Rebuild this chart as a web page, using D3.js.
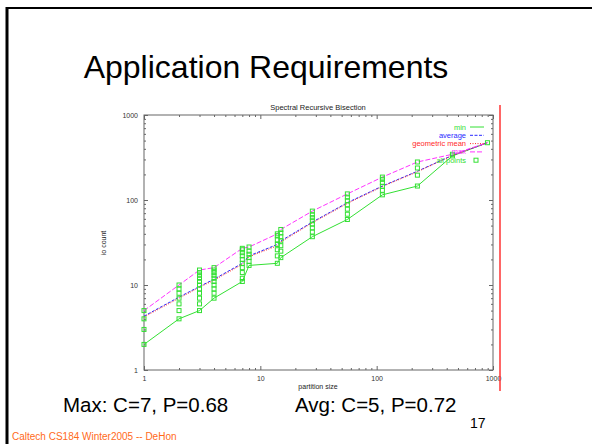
<!DOCTYPE html>
<html><head><meta charset="utf-8">
<script src="https://cdn.jsdelivr.net/npm/d3@7"></script>
<style>
html,body{margin:0;padding:0;background:#fff;}
svg{display:block;font-family:"Liberation Sans",Arial,sans-serif;}
</style></head>
<body>
<svg id="c" width="592" height="444"></svg>
<script>
// ---- data ----
const sizes   = [1, 2, 3, 4, 7, 8, 14, 15, 28, 56, 112, 224, 448, 896];
const minVals = [2, 4, 5, 7, 11, 17, 18, 21, 37, 59, 115, 146, 330, 472];
const maxVals = [5, 10, 15, 16, 27, 28, 40, 45, 74, 118, 186, 280, 345, 472];
const avgVals = [4.3, 7.2, 9.6, 11.7, 18, 22, 30, 33, 55, 93, 146, 218, 335, 472];
const geoVals = [4.2, 7.0, 9.4, 11.4, 17.5, 21.5, 29, 32, 54, 91, 144, 215, 334, 472];
const allPoints = [
  [1, [2, 3, 4, 5]],
  [2, [4, 5, 6, 7, 8, 9, 10]],
  [3, [5, 6, 7, 8, 9, 10, 11, 12, 13, 14, 15]],
  [4, [7, 8, 9, 10, 11, 12, 13, 14, 15, 16]],
  [7, [11, 12, 14, 16, 18, 20, 22, 24, 26, 27]],
  [8, [17, 19, 21, 23, 25, 28]],
  [14, [18, 22, 26, 30, 34, 38, 40]],
  [15, [21, 25, 29, 33, 37, 41, 45]],
  [28, [37, 42, 47, 52, 57, 62, 67, 74]],
  [56, [59, 68, 78, 88, 98, 108, 118]],
  [112, [115, 130, 145, 160, 175, 186]],
  [224, [146, 196, 238, 280]],
  [448, [330, 345]],
  [896, [472]]
];
const decadeLabels = ["1", "10", "100", "1000"];
const legendLabels = ["min", "average", "geometric mean", "max", "all points"];

// ---- drawing ----
const svg = d3.select("#c");
const W = 592, H = 444;

// slide frame
svg.append("line").attr("x1", 7).attr("x2", 7).attr("y1", 7).attr("y2", H).attr("stroke", "#000").attr("stroke-width", 3);
svg.append("line").attr("x1", 6).attr("x2", W).attr("y1", 8).attr("y2", 8).attr("stroke", "#000").attr("stroke-width", 2);

svg.append("text").attr("x", 266).attr("y", 78).attr("text-anchor", "middle")
  .attr("font-size", 32).attr("fill", "#000").text("Application Requirements");

const x = d3.scaleLog().domain([1, 1000]).range([144, 493]);
const y = d3.scaleLog().domain([1, 1000]).range([370, 115]);
const axisCol = "#666";
const isMajor = v => Math.abs(Math.log10(v) - Math.round(Math.log10(v))) < 1e-6;
const fmt = v => isMajor(v) ? decadeLabels[Math.round(Math.log10(v))] : "";
const tickVals = x.ticks();

function styleAxis(g, inward) {
  g.select(".domain").remove();
  g.selectAll(".tick line").attr("stroke", axisCol).attr("stroke-width", 1)
    .each(function(d) {
      const len = isMajor(d) ? 4 : 2;
      const el = d3.select(this);
      if (el.attr("x2") !== null && +el.attr("x2") !== 0) el.attr("x2", inward * len);
      else el.attr("y2", inward * len);
    });
  g.selectAll(".tick text").attr("font-size", 7).attr("fill", "#333")
    .attr("font-family", "Liberation Sans, Arial, sans-serif");
}
// bottom
svg.append("g").attr("transform", "translate(0,370)")
  .call(d3.axisBottom(x).tickValues(tickVals).tickFormat(fmt).tickSizeInner(-4).tickPadding(6))
  .call(g => styleAxis(g, -1));
// top
svg.append("g").attr("transform", "translate(0,115)")
  .call(d3.axisTop(x).tickValues(tickVals).tickFormat("").tickSizeInner(-4))
  .call(g => styleAxis(g, 1));
// left
svg.append("g").attr("transform", "translate(144,0)")
  .call(d3.axisLeft(y).tickValues(y.ticks()).tickFormat(fmt).tickSizeInner(-4).tickPadding(6))
  .call(g => styleAxis(g, 1));
// right
svg.append("g").attr("transform", "translate(493,0)")
  .call(d3.axisRight(y).tickValues(y.ticks()).tickFormat("").tickSizeInner(-4))
  .call(g => styleAxis(g, -1));
// frame
svg.append("rect").attr("x", 144).attr("y", 115).attr("width", 349).attr("height", 255)
  .attr("fill", "none").attr("stroke", axisCol).attr("stroke-width", 1);

// titles
svg.append("text").attr("x", 318).attr("y", 110).attr("text-anchor", "middle")
  .attr("font-size", 7.5).attr("fill", "#222").text("Spectral Recursive Bisection");
svg.append("text").attr("x", 318).attr("y", 389).attr("text-anchor", "middle")
  .attr("font-size", 7).attr("fill", "#222").text("partition size");
svg.append("text").attr("transform", "translate(106,243) rotate(-90)").attr("text-anchor", "middle")
  .attr("font-size", 7).attr("fill", "#222").text("io count");

// series
const green = "#33e033", blue = "#2a2aff", red = "#ff2a2a", mag = "#ff33ff";
const line = d3.line().x(d => x(d[0])).y(d => y(d[1]));
const series = [
  {vals: minVals, col: green, dash: null},
  {vals: avgVals, col: blue, dash: "3,1.5"},
  {vals: geoVals, col: red, dash: "1,1.5"},
  {vals: maxVals, col: mag, dash: "5,2"}
];
series.forEach(s => {
  svg.append("path").datum(sizes.map((v, i) => [v, s.vals[i]]))
    .attr("d", line).attr("fill", "none").attr("stroke", s.col).attr("stroke-width", 1)
    .attr("stroke-dasharray", s.dash);
});
// all points
const pts = allPoints.flatMap(([s, vs]) => vs.map(v => [s, v]));
svg.append("g").selectAll("rect").data(pts).join("rect")
  .attr("x", d => x(d[0]) - 2).attr("y", d => y(d[1]) - 2)
  .attr("width", 4).attr("height", 4).attr("fill", "none").attr("stroke", green).attr("stroke-width", 1);

// legend
const legCols = [green, blue, red, mag, green];
const legDash = [null, "3,1.5", "1,1.5", "5,2", null];
legendLabels.forEach((lab, i) => {
  const ly = 127 + i * 8.3;
  svg.append("text").attr("x", 466).attr("y", ly + 2.5).attr("text-anchor", "end")
    .attr("font-size", 7.5).attr("fill", legCols[i]).text(lab);
  if (i < 4) {
    svg.append("line").attr("x1", 470).attr("x2", 484).attr("y1", ly).attr("y2", ly)
      .attr("stroke", legCols[i]).attr("stroke-width", 1).attr("stroke-dasharray", legDash[i]);
  } else {
    svg.append("rect").attr("x", 474).attr("y", ly - 2).attr("width", 4).attr("height", 4)
      .attr("fill", "none").attr("stroke", green);
  }
});

// red vertical line
svg.append("line").attr("x1", 500).attr("x2", 500).attr("y1", 105).attr("y2", 391)
  .attr("stroke", "#ff3333").attr("stroke-width", 1.5);

// bottom texts
svg.append("text").attr("x", 63).attr("y", 412).attr("font-size", 20.5).attr("fill", "#000").text("Max: C=7, P=0.68");
svg.append("text").attr("x", 295).attr("y", 412).attr("font-size", 20.5).attr("fill", "#000").text("Avg: C=5, P=0.72");
svg.append("text").attr("x", 470).attr("y", 428).attr("font-size", 14).attr("fill", "#000").text("17");
svg.append("text").attr("x", 12).attr("y", 440).attr("font-size", 10).attr("fill", "#ff6a1a").text("Caltech CS184 Winter2005 -- DeHon");
</script>
</body></html>
